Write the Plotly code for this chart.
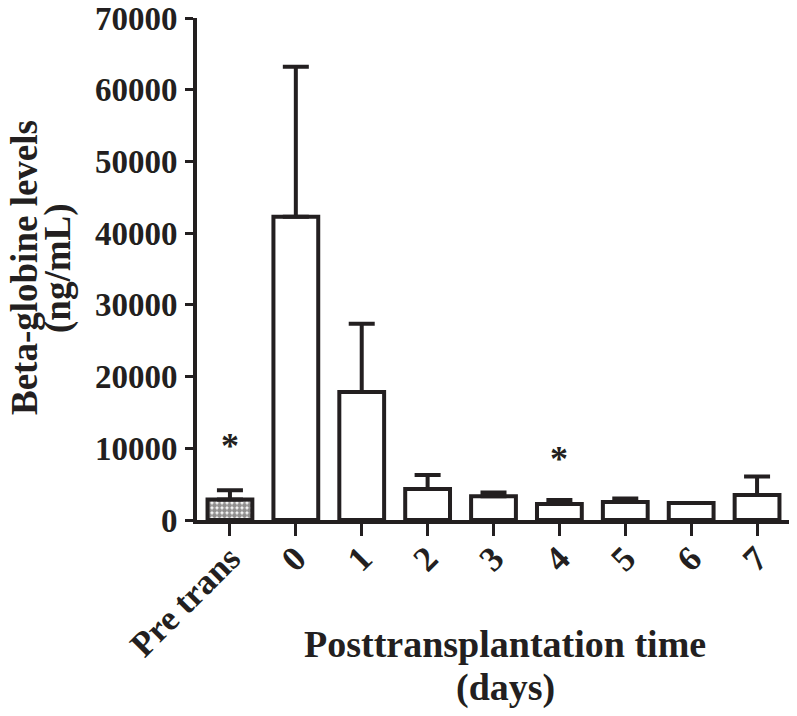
import plotly.graph_objects as go

categories = ["Pre trans", "0", "1", "2", "3", "4", "5", "6", "7"]
means = [2860, 42300, 17850, 4320, 3300, 2230, 2510, 2370, 3490]
errors = [1300, 20900, 9500, 1960, 540, 560, 490, 0, 2580]
y_ticks = [0, 10000, 20000, 30000, 40000, 50000, 60000, 70000]
star_positions = ["Pre trans", "4"]
star_heights = [10300, 8500]
y_title_lines = ["Beta-globine levels", "(ng/mL)"]
x_title_lines = ["Posttransplantation time", "(days)"]

INK = "#231F20"
FONT = "Liberation Serif"

patterns = [""] * len(categories)
patterns[0] = "."

fig = go.Figure()
fig.add_trace(go.Bar(
    x=categories,
    y=means,
    width=0.68,
    marker=dict(
        color="white",
        line=dict(color=INK, width=4),
        pattern=dict(shape=patterns, fgcolor=INK, bgcolor="white", size=5, solidity=0.75),
    ),
    error_y=dict(type="data", symmetric=False, array=errors, arrayminus=[0] * len(errors),
                 color=INK, thickness=4, width=13),
    showlegend=False,
))

for cx, cy in zip(star_positions, star_heights):
    fig.add_annotation(x=categories.index(cx), y=cy, xref="x", yref="y", text="<b>*</b>",
                       showarrow=False, font=dict(family=FONT, size=36, color=INK))

title_font = dict(family=FONT, size=37, color=INK, weight="bold")
for text, px in zip(y_title_lines, [24, 58]):
    fig.add_annotation(text=text, xref="paper", yref="paper",
                       x=(px - 197) / 593, y=(520 - 268) / 502,
                       xanchor="center", yanchor="middle", textangle=-90,
                       showarrow=False, font=title_font)
for text, py in zip(x_title_lines, [644, 687]):
    fig.add_annotation(text=text, xref="paper", yref="paper",
                       x=(505 - 197) / 593, y=(520 - py) / 502,
                       xanchor="center", yanchor="middle",
                       showarrow=False, font=dict(family=FONT, size=38, color=INK, weight="bold"))

# the page body has an 8px default margin, so the figure is sized to fill the rest
fig.update_layout(
    width=789, height=708,
    margin=dict(l=189, r=7, t=10, b=196),
    plot_bgcolor="white", paper_bgcolor="white",
)
fig.update_xaxes(
    type="category", range=[-0.5, 8.5], showline=True, linecolor=INK, linewidth=4,
    ticks="outside", ticklen=12, tickwidth=3, tickcolor=INK,
    tickangle=-45, showgrid=False, zeroline=False, automargin=False,
    ticklabelstandoff=-12, ticklabeloverflow="allow",
    tickfont=dict(family=FONT, size=35, color=INK, weight="bold"),
)
fig.update_yaxes(
    range=[0, 70000], tickvals=y_ticks, ticktext=[str(v) for v in y_ticks],
    showline=True, linecolor=INK, linewidth=4,
    ticks="outside", ticklen=8, tickwidth=3, tickcolor=INK,
    showgrid=False, zeroline=False, ticklabelstandoff=1, automargin=False,
    ticklabeloverflow="allow",
    tickfont=dict(family=FONT, size=33, color=INK, weight="bold"),
)

fig.write_html("out.html")
